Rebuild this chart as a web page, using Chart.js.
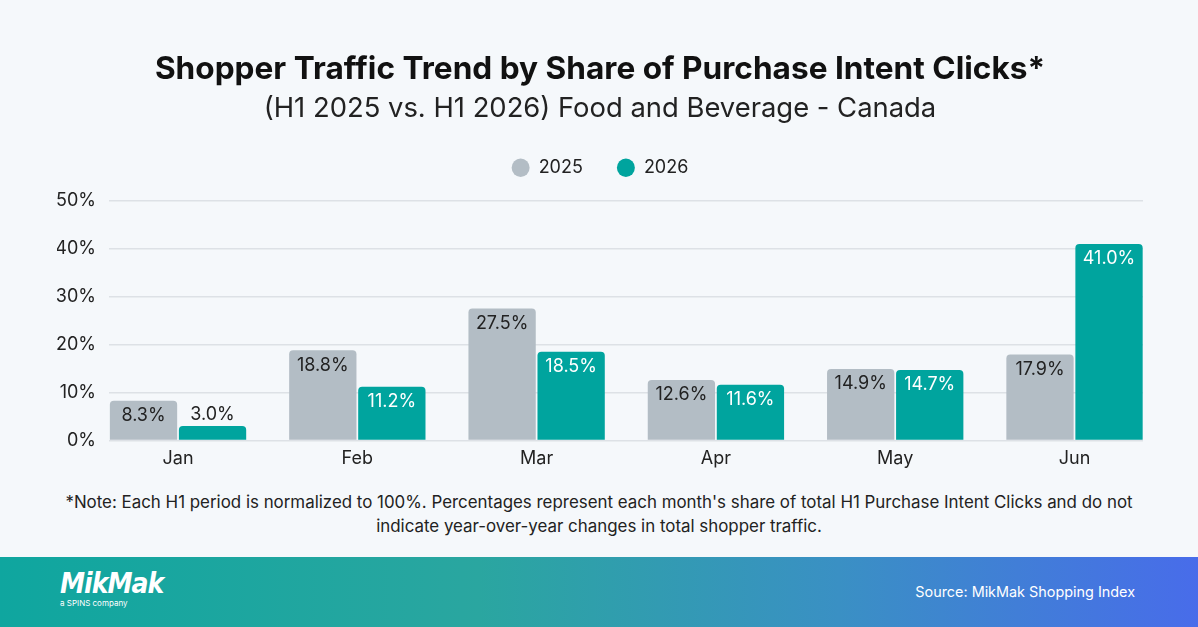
<!DOCTYPE html>
<html>
<head>
<meta charset="utf-8">
<script src="https://cdn.jsdelivr.net/npm/chart.js@4.4.1/dist/chart.umd.min.js"></script>
<style>
  html, body { margin: 0; padding: 0; }
  body {
    width: 1198px; height: 627px; position: relative; overflow: hidden;
    background: #f5f8fb; font-family: Inter, 'Noto Sans', sans-serif; color: #222;
  }
  #wrap { position: absolute; left: 0; top: 0; width: 1198px; height: 476px; }
  #note {
    position: absolute; left: 0; top: 490px; width: 1198px;
    text-align: center; font-size: 16.9px; line-height: 24px; color: #222;
  }
  #footer {
    position: absolute; left: 0; top: 557px; width: 1198px; height: 70px;
    background: linear-gradient(90deg, #0fa69f 0%, #2aa6a0 40%, #3a90c4 70%, #486cea 100%);
    color: #fff;
  }
  #logo {
    position: absolute; left: 60px; top: 12px;
    font-family: 'Liberation Sans Narrow', 'DejaVu Sans Condensed', sans-serif;
    font-weight: bold; font-style: italic; font-size: 28px; letter-spacing: -1px; line-height: 30px;
  }
  #logo small { display: block; font-style: normal; font-weight: normal; font-size: 8px;
    letter-spacing: 0; line-height: 10px; font-family: Inter, sans-serif; margin-top: -1px; }
  #source { position: absolute; right: 63px; top: 26px; font-size: 14.4px; }
</style>
</head>
<body>
<div id="wrap"><canvas id="chart"></canvas></div>
<div id="note">*Note: Each H1 period is normalized to 100%. Percentages represent each month's share of total H1 Purchase Intent Clicks and do not<br>indicate year-over-year changes in total shopper traffic.</div>
<div id="footer">
  <div id="logo">MikMak<small>a SPINS company</small></div>
  <div id="source">Source: MikMak Shopping Index</div>
</div>
<script>
// Chart data
const months = ['Jan', 'Feb', 'Mar', 'Apr', 'May', 'Jun'];
const share2025 = [8.3, 18.8, 27.5, 12.6, 14.9, 17.9];
const share2026 = [3.0, 11.2, 18.5, 11.6, 14.7, 41.0];
const yTicks = [0, 10, 20, 30, 40, 50];

const GRAY = '#b3bdc5';
const TEAL = '#00a49e';
const TEXT = '#222222';

// value labels inside the top of each bar (above it when the bar is too short)
const barLabels = {
  id: 'barLabels',
  afterDatasetsDraw(chart) {
    const ctx = chart.ctx;
    ctx.save();
    ctx.font = '18px Inter, sans-serif';
    ctx.textAlign = 'center';
    ctx.textBaseline = 'middle';
    chart.data.datasets.forEach((ds, i) => {
      const meta = chart.getDatasetMeta(i);
      meta.data.forEach((bar, j) => {
        const v = ds.data[j].y;
        const short = v < 5;
        ctx.fillStyle = short ? TEXT : ds.labelColor;
        ctx.fillText(v.toFixed(1) + '%', bar.x, short ? bar.y - 11 : bar.y + 15);
      });
    });
    ctx.restore();
  }
};

Chart.defaults.font.family = 'Inter, sans-serif';
Chart.defaults.color = TEXT;

new Chart(document.getElementById('chart'), {
  type: 'bar',
  data: {
    datasets: [{
      label: '2025',
      data: share2025.map((v, i) => ({ x: i, y: v })),
      backgroundColor: GRAY,
      labelColor: TEXT,
      borderRadius: 4,
      categoryPercentage: 0.77,
      barPercentage: 0.975
    }, {
      label: '2026',
      data: share2026.map((v, i) => ({ x: i, y: v })),
      backgroundColor: TEAL,
      labelColor: '#ffffff',
      borderRadius: 4,
      categoryPercentage: 0.77,
      barPercentage: 0.975
    }]
  },
  options: {
    responsive: true,
    maintainAspectRatio: false,
    animation: false,
    layout: { padding: { left: 57, right: 55, top: 0, bottom: 0 } },
    plugins: {
      title: {
        display: true,
        text: 'Shopper Traffic Trend by Share of Purchase Intent Clicks*',
        color: '#111',
        font: { size: 31.6, weight: 'bold' },
        padding: { top: 51, bottom: 3 }
      },
      subtitle: {
        display: true,
        text: '(H1 2025 vs. H1 2026) Food and Beverage - Canada',
        color: TEXT,
        font: { size: 27.4, weight: 'normal' },
        padding: { top: 0, bottom: 0 }
      },
      legend: {
        display: true,
        labels: {
          usePointStyle: true,
          pointStyle: 'circle',
          pointStyleWidth: 18,
          boxHeight: 13,
          padding: 34,
          font: { size: 18 },
          color: TEXT
        }
      },
      tooltip: { enabled: false }
    },
    scales: {
      x: {
        type: 'linear',
        offset: false,
        min: -0.385,
        max: 5.382,
        afterBuildTicks: s => { s.ticks = months.map((m, i) => ({ value: i })); },
        grid: { display: false, drawTicks: false },
        border: { display: false },
        ticks: {
          padding: 7,
          font: { size: 18 },
          color: TEXT,
          callback: v => months[v]
        }
      },
      // empty strip between the legend and the plot
      gap: {
        type: 'linear',
        position: 'top',
        grid: { display: false, drawTicks: false },
        border: { display: false },
        ticks: { display: false },
        afterFit: s => { s.height = 14; }
      },
      y: {
        min: 0,
        max: 50,
        afterFit: s => { s.width = 52; },
        afterBuildTicks: s => { s.ticks = yTicks.map(v => ({ value: v })); },
        grid: { color: '#dde1e6', lineWidth: 1.5, drawTicks: false },
        border: { display: false },
        ticks: {
          padding: 13,
          font: { size: 18 },
          color: TEXT,
          callback: v => v + '%'
        }
      }
    }
  },
  plugins: [barLabels]
});
</script>
</body>
</html>
